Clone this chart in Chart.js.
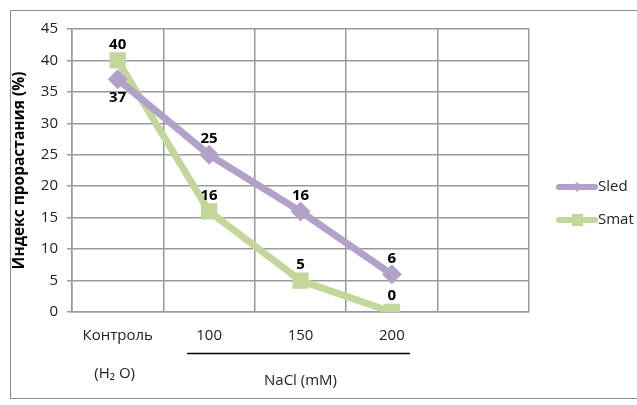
<!DOCTYPE html>
<html>
<head>
<meta charset="utf-8">
<script src="https://cdn.jsdelivr.net/npm/chart.js@4.4.1/dist/chart.umd.min.js"></script>
<style>
body{margin:0;background:#fff}
#wrap{width:637px;height:405px;position:relative}
</style>
</head>
<body>
<div id="wrap"><canvas id="chart"></canvas></div>
<script>

// data
const categories=["Контроль","100","150","200",""]
const sledValues=[37,25,16,6,null]
const smatValues=[40,16,5,0,null]
const yMin=0
const yMax=45
const yStep=5
const groupLabels=["(H₂ O)","NaCl (mM)"]
const groupFrom=[0,1]
const groupTo=[0,3]

const font="'Open Sans', 'Noto Sans', sans-serif"
const purple="#b3a2c7"
const green="#c3d69b"


// frame round the whole chart
const framePlugin={
id:"frame",
beforeDraw(chart){
let ctx=chart.ctx
ctx.save()
ctx.strokeStyle="#8a8a8a"
ctx.lineWidth=1
ctx.strokeRect(10.5,10.5,660,388)
ctx.restore()
}
}


// value labels next to the points
const valueLabels={
id:"valueLabels",
afterDatasetsDraw(chart){
let ctx=chart.ctx
ctx.save()
ctx.font="bold 15px "+font
ctx.fillStyle="#000"
ctx.textAlign="center"
ctx.textBaseline="middle"
chart.data.datasets.forEach((ds,di)=>{
let meta=chart.getDatasetMeta(di)
meta.data.forEach((pt,i)=>{
let v=ds.data[i]
if(v==null) return
let other=chart.data.datasets[1-di].data[i]
let below=other!=null && v<other && Math.abs(v-other)<5
let dy=below?18:-16
ctx.fillText(String(v),pt.x,pt.y+dy)
})
})
ctx.restore()
}
}


// second row of x labels and the custom legend
const extras={
id:"extras",
afterDraw(chart){
let ctx=chart.ctx
let x=chart.scales.x
ctx.save()

ctx.font="15px "+font
ctx.fillStyle="#222"
ctx.textAlign="center"
ctx.textBaseline="middle"
groupLabels.forEach((t,i)=>{
let a=x.getPixelForValue(groupFrom[i])
let b=x.getPixelForValue(groupTo[i])
if(groupFrom[i]==groupTo[i]){
ctx.fillText(t,a-3,374)
}else{
ctx.strokeStyle="#000"
ctx.lineWidth=1.5
ctx.beginPath()
ctx.moveTo(a-22,353.5)
ctx.lineTo(b+18,353.5)
ctx.stroke()
ctx.fillText(t,(a+b)/2,381)
}
})

// legend
ctx.textAlign="left"
ctx.font="15px "+font
chart.data.datasets.forEach((ds,i)=>{
let y=187+i*33
ctx.strokeStyle=ds.borderColor
ctx.lineWidth=6
ctx.lineCap="round"
ctx.beginPath()
ctx.moveTo(559,y)
ctx.lineTo(595,y)
ctx.stroke()
ctx.fillStyle=ds.borderColor
if(ds.pointStyle=="rectRot"){
ctx.beginPath()
ctx.moveTo(577,y-5)
ctx.lineTo(582,y)
ctx.lineTo(577,y+5)
ctx.lineTo(572,y)
ctx.closePath()
ctx.fill()
}else{
ctx.fillRect(572,y-6,11,12)
}
ctx.fillStyle="#222"
ctx.fillText(ds.label,598,y)
})

ctx.restore()
}
}


new Chart(document.getElementById("chart"),{

type:"line",

data:{
labels:categories,
datasets:[{
label:"Sled",
data:sledValues,
borderColor:purple,
backgroundColor:purple,
borderWidth:7,
pointStyle:"rectRot",
pointRadius:10,
pointHoverRadius:10,
pointBorderWidth:0,
tension:0
},{
label:"Smat",
data:smatValues,
borderColor:green,
backgroundColor:green,
borderWidth:7,
pointStyle:"rect",
pointRadius:11.5,
pointHoverRadius:11.5,
pointBorderWidth:0,
tension:0
}]
},

options:{
responsive:true,
maintainAspectRatio:false,
animation:false,
layout:{padding:{left:10,top:29,right:108,bottom:0}},
plugins:{
legend:{display:false},
tooltip:{enabled:false}
},
scales:{
x:{
offset:true,
grid:{offset:true,color:"#9a9a9a",lineWidth:1.5,drawTicks:false},
border:{color:"#9a9a9a",width:1.5},
ticks:{color:"#222",font:{family:font,size:15},padding:15,maxRotation:0,autoSkip:false},
afterFit(s){s.height=93}
},
y:{
min:yMin,
max:yMax,
ticks:{stepSize:yStep,color:"#222",font:{family:font,size:15},padding:9},
grid:{color:"#9a9a9a",lineWidth:1.5,tickLength:5},
border:{color:"#9a9a9a",width:1.5},
title:{display:true,text:"Индекс прорастания (%)",color:"#000",font:{family:font,size:15.5,weight:"bold"},padding:0},
afterFit(s){s.width=62}
}
}
},

plugins:[framePlugin,valueLabels,extras]

})

</script>
</body>
</html>
